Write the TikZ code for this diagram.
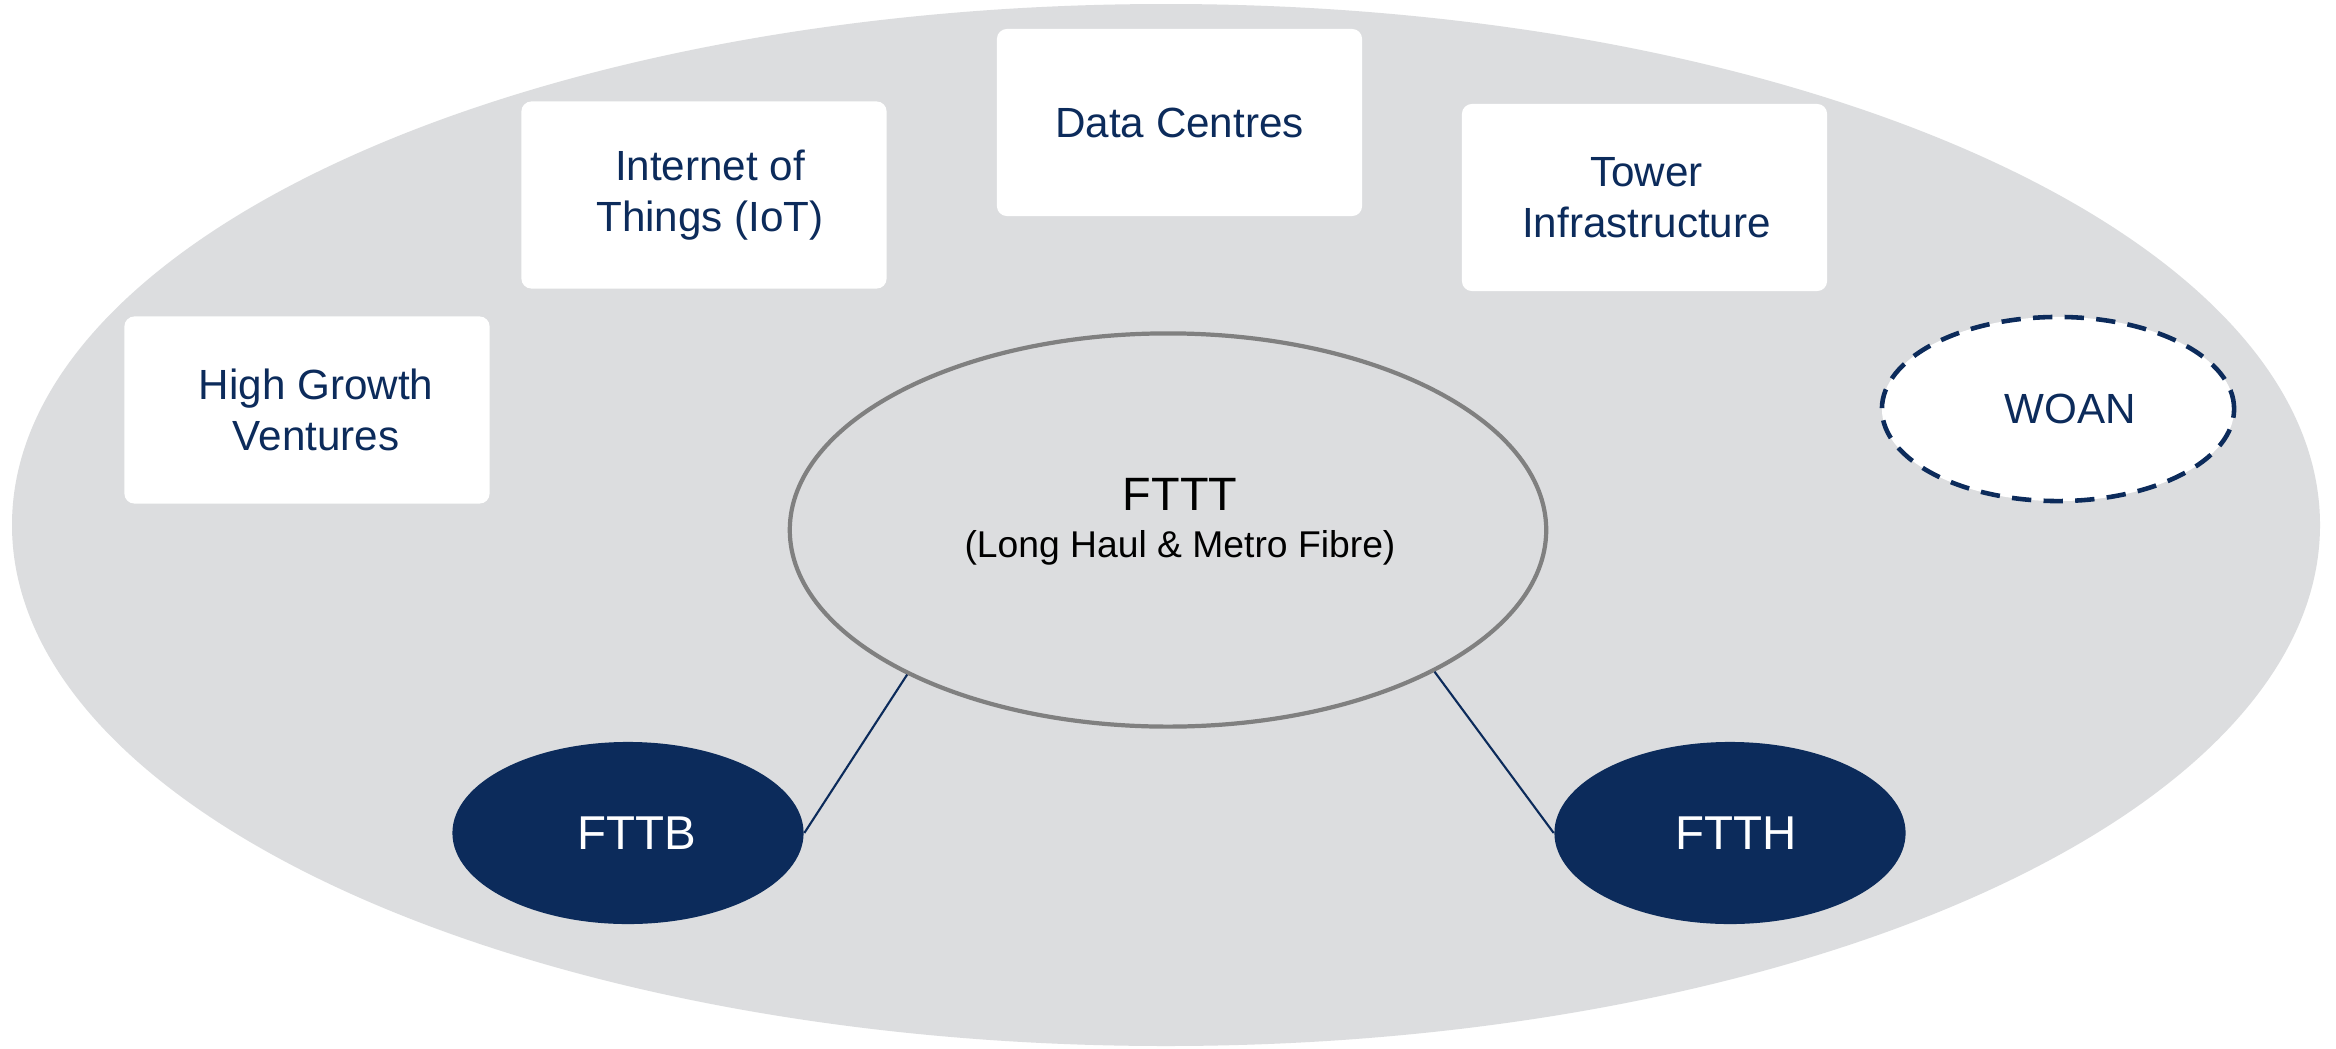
\documentclass[tikz,border=0pt]{standalone}
\usepackage{fontspec}
\setmainfont{Liberation Sans}
\usetikzlibrary{shapes.geometric}
\definecolor{bggray}{HTML}{DCDDDF}
\definecolor{navy}{HTML}{0C2B5B}
\definecolor{ringgray}{HTML}{808080}
\tikzset{
  whitebox/.style={rectangle, rounded corners=0.1cm, fill=white, draw=none,
    minimum width=3.65cm, minimum height=1.87cm, align=center,
    text=navy, font=\fontsize{12}{14.4}\selectfont},
  darkoval/.style={ellipse, fill=navy, draw=none, minimum width=3.51cm,
    minimum height=1.82cm, text=white, font=\fontsize{13.5}{16}\selectfont},
  link/.style={draw=navy, line width=0.6pt}
}
\begin{document}
\begin{tikzpicture}[x=0.01cm, y=-0.01cm]
\useasboundingbox (0,0) rectangle (2336,1048);
\fill[white] (0,0) rectangle (2336,1048);
\fill[bggray] (1166,525) ellipse [x radius=1154, y radius=521];

\node[whitebox] (hgv) at (307,410) {\hspace*{0.18cm}High Growth\\\hspace*{0.18cm}Ventures};
\node[whitebox] (iot) at (704,195) {\hspace*{0.12cm}Internet of\\\hspace*{0.12cm}Things (IoT)};
\node[whitebox] (dc) at (1179.5,122.5) {Data Centres};
\node[whitebox] (tower) at (1644.5,197.5) {\hspace*{0.04cm}Tower\\\hspace*{0.04cm}Infrastructure};

\node[ellipse, fill=white, draw=navy, dashed, dash pattern=on 5.5pt off 3.5pt,
  line width=1.3pt, minimum width=3.52cm, minimum height=1.84cm,
  text=navy, font=\fontsize{12}{14.4}\selectfont] (woan) at (2058,409) {\hspace*{0.24cm}WOAN};

\node[ellipse, fill=bggray, draw=ringgray, line width=1.2pt,
  minimum width=7.56cm, minimum height=3.93cm] (fttt) at (1168,530) {};
\node[align=center, inner sep=0pt] (ftttlabel) at (1180,522)
  {{\fontsize{13.3}{14}\selectfont FTTT}\\[1.5pt]{\fontsize{10.6}{12.7}\selectfont (Long Haul \& Metro Fibre)}};

\node[darkoval] (fttb) at (628,833) {\hspace*{0.18cm}FTTB};
\node[darkoval] (ftth) at (1730,833) {\hspace*{0.12cm}FTTH};

\draw[link] (fttb.east) -- (fttt.209);
\draw[link] (ftth.west) -- (fttt.332);
\end{tikzpicture}
\end{document}
